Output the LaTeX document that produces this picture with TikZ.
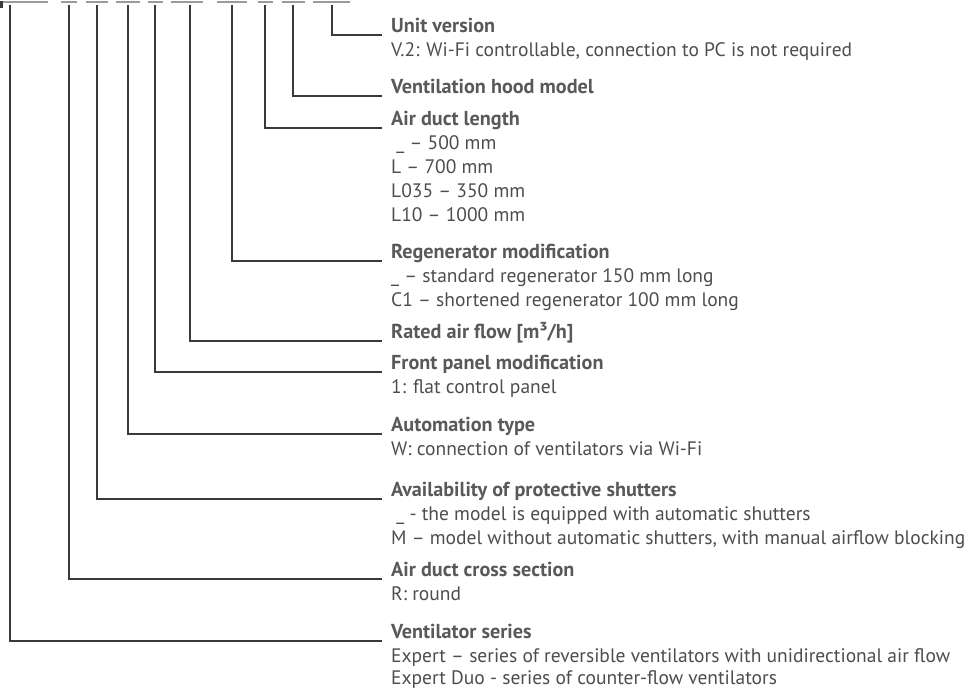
\documentclass[tikz,border=0pt]{standalone}
\usepackage{fontspec}
\setmainfont{PT Sans}
\definecolor{ttl}{HTML}{58595B}
\definecolor{txt}{HTML}{4D4D4F}
\definecolor{ln}{HTML}{3A3A3A}
\definecolor{seg}{HTML}{9A9A9A}
\begin{document}
\begin{tikzpicture}[x=1pt,y=-1pt,
  title/.style={anchor=base west,inner sep=0pt,text=ttl,font=\fontsize{20.2}{22}\selectfont\bfseries},
  desc/.style={anchor=base west,inner sep=0pt,text=txt,font=\fontsize{19.5}{22}\selectfont},
  leader/.style={draw=ln,line width=1.1pt},
  codeseg/.style={draw=seg,line width=1.3pt}]
\useasboundingbox (0,0) rectangle (977,689);
% cut-off code underscores at the top
\foreach \a/\b in {0/48,61/77,86/108,116/140,148/163,171/203,217/247,258/273,282/305,313/350}
  \draw[codeseg] (\a,2) -- (\b,2);
\fill[ln] (0,1) rectangle (2.5,8);
% tops of leaders
\foreach \n/\x in {s/10,c/69,a/97,t/128,f/155,r/190,g/232,d/265,h/293,u/332}
  \coordinate (top\n) at (\x,5);
% leader ends
\foreach \n/\y in {u/35,h/96,d/128,g/261,r/341,f/372,t/434,a/499,c/579,s/641}
  \coordinate (end\n) at (382,\y);
% titles and descriptions
\node[title] (Tu) at (391,32) {Unit version};
\node[desc] (Du1) at (391,56) {V.2: Wi-Fi controllable, connection to PC is not required};
\node[title] (Th) at (391,93) {Ventilation hood model};
\node[title] (Td) at (391,125) {Air duct length};
\node[desc] (Dd1) at (391,149) {\ \_ – 500 mm};
\node[desc] (Dd2) at (391,173) {L – 700 mm};
\node[desc] (Dd3) at (391,197) {L035 – 350 mm};
\node[desc] (Dd4) at (391,221) {L10 – 1000 mm};
\node[title] (Tg) at (391,258) {Regenerator modification};
\node[desc] (Dg1) at (391,282) {\_ – standard regenerator 150 mm long};
\node[desc] (Dg2) at (391,306) {C1 – shortened regenerator 100 mm long};
\node[title] (Tr) at (391,338) {Rated air flow [m³/h]};
\node[title] (Tf) at (391,369) {Front panel modification};
\node[desc] (Df1) at (391,393) {1: flat control panel};
\node[title] (Tt) at (391,431) {Automation type};
\node[desc] (Dt1) at (391,455) {W: connection of ventilators via Wi-Fi};
\node[title] (Ta) at (391,496) {Availability of protective shutters};
\node[desc] (Da1) at (391,520) {\ \_ - the model is equipped with automatic shutters};
\node[desc] (Da2) at (391,544) {M – model without automatic shutters, with manual airflow blocking};
\node[title] (Tc) at (391,576) {Air duct cross section};
\node[desc] (Dc1) at (391,600) {R: round};
\node[title] (Ts) at (391,638) {Ventilator series};
\node[desc] (Ds1) at (391,662) {Expert – series of reversible ventilators with unidirectional air flow};
\node[desc] (Ds2) at (391,684) {Expert Duo - series of counter-flow ventilators};
% leaders
\foreach \n in {u,h,d,g,r,f,t,a,c,s}
  \draw[leader] (top\n) |- (end\n);
\end{tikzpicture}
\end{document}
